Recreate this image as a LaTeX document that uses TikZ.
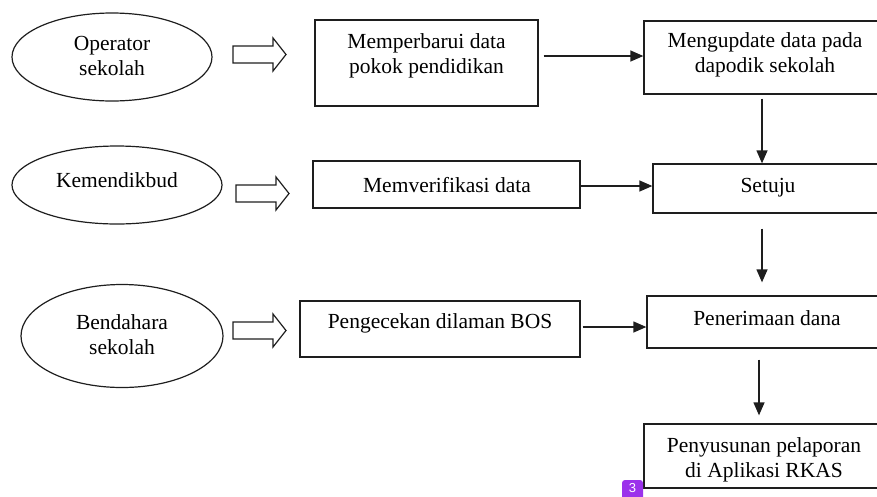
\documentclass[tikz,border=0pt]{standalone}
\usepackage{fontspec}
\setmainfont{Liberation Serif}
\newfontfamily\badgefont{Liberation Sans}
\usetikzlibrary{arrows.meta,shapes.geometric}
\definecolor{badgepurple}{RGB}{155,50,235}
\definecolor{inkline}{RGB}{30,30,30}
\begin{document}
\begin{tikzpicture}[x=1pt,y=-1pt,
  every node/.style={font=\fontsize{21.5}{25}\selectfont},
  lbl/.style={inner sep=0pt, align=center},
  boxnode/.style={draw=inkline, line width=1.3pt, inner sep=0pt},
  ell/.style={draw=inkline, ellipse, line width=1.2pt, inner sep=0pt},
  conn/.style={draw=inkline, line width=1.3pt, -{Triangle[length=13pt,width=11pt]}},
  blockarrow/.pic={\draw[inkline, line width=1.2pt, line join=miter]
     (0,-8.5) -- (40,-8.5) -- (40,-16.5) -- (53,0) -- (40,16.5) -- (40,8.5) -- (0,8.5) -- cycle;}
  ]
\useasboundingbox (0,0) rectangle (877,496);
\clip (0,0) rectangle (877,496);

% actors
\node[ell, minimum width=200pt, minimum height=88pt] (e1) at (112,57) {};
\node[lbl] (e1t) at (112,56) {Operator\\sekolah};
\node[ell, minimum width=210pt, minimum height=78pt] (e2) at (117,185) {};
\node[lbl] (e2t) at (117,180) {Kemendikbud};
\node[ell, minimum width=202pt, minimum height=103pt] (e3) at (122,336) {};
\node[lbl] (e3t) at (122,335) {Bendahara\\sekolah};

% block arrows
\pic at (233,54.5) {blockarrow};
\pic at (236,193.5) {blockarrow};
\pic at (233,330.5) {blockarrow};

% boxes
\node[boxnode, minimum width=223pt, minimum height=86pt] (b1) at (426.5,63) {};
\node[lbl] (b1t) at (426.5,55.5) {Memperbarui data\\pokok pendidikan};
\node[boxnode, minimum width=242pt, minimum height=73pt] (b2) at (765,57.5) {};
\node[lbl] (b2t) at (765,55) {Mengupdate data pada\\dapodik sekolah};
\node[boxnode, minimum width=267pt, minimum height=47pt] (b3) at (446.5,184.5) {};
\node[lbl] (b3t) at (447,185) {Memverifikasi data};
\node[boxnode, minimum width=230pt, minimum height=49pt] (b4) at (768,188.5) {};
\node[lbl] (b4t) at (768,188) {Setuju};
\node[boxnode, minimum width=280pt, minimum height=56pt] (b5) at (440,329) {};
\node[lbl] (b5t) at (440,323) {Pengecekan dilaman BOS};
\node[boxnode, minimum width=240pt, minimum height=52pt] (b6) at (767,322) {};
\node[lbl] (b6t) at (767,318) {Penerimaan dana};
\node[boxnode, minimum width=240pt, minimum height=64pt] (b7) at (764,456) {};
\node[lbl] (b7t) at (764,459.5) {Penyusunan pelaporan\\di Aplikasi RKAS};

% helper levels
\coordinate (y1) at (0,56);
\coordinate (y2) at (0,186);
\coordinate (y3) at (0,327);
\coordinate (x1) at (762,0);
\coordinate (x2) at (759,0);

% connectors
\draw[conn, shorten <=5pt] (b1.east |- y1) -- (b2.west |- y1);
\draw[conn, shorten <=4pt] (b2.south -| x1) -- (b4.north -| x1);
\draw[conn] (b3.east |- y2) -- (b4.west |- y2);
\draw[conn, shorten <=15pt, shorten >=13pt] (b4.south -| x1) -- (b6.north -| x1);
\draw[conn, shorten <=2pt] (b5.east |- y3) -- (b6.west |- y3);
\draw[conn, shorten <=11pt, shorten >=8pt] (b6.south -| x2) -- (b7.north -| x2);

% page badge
\node[fill=badgepurple, rounded corners=3pt, minimum width=21pt, minimum height=24pt,
      inner sep=0pt] (pg) at (632.5,492) {};
\node[inner sep=0pt, text=white, font=\badgefont\fontsize{13}{13}\selectfont] (pgt) at (632.5,488.5) {3};
\end{tikzpicture}
\end{document}
